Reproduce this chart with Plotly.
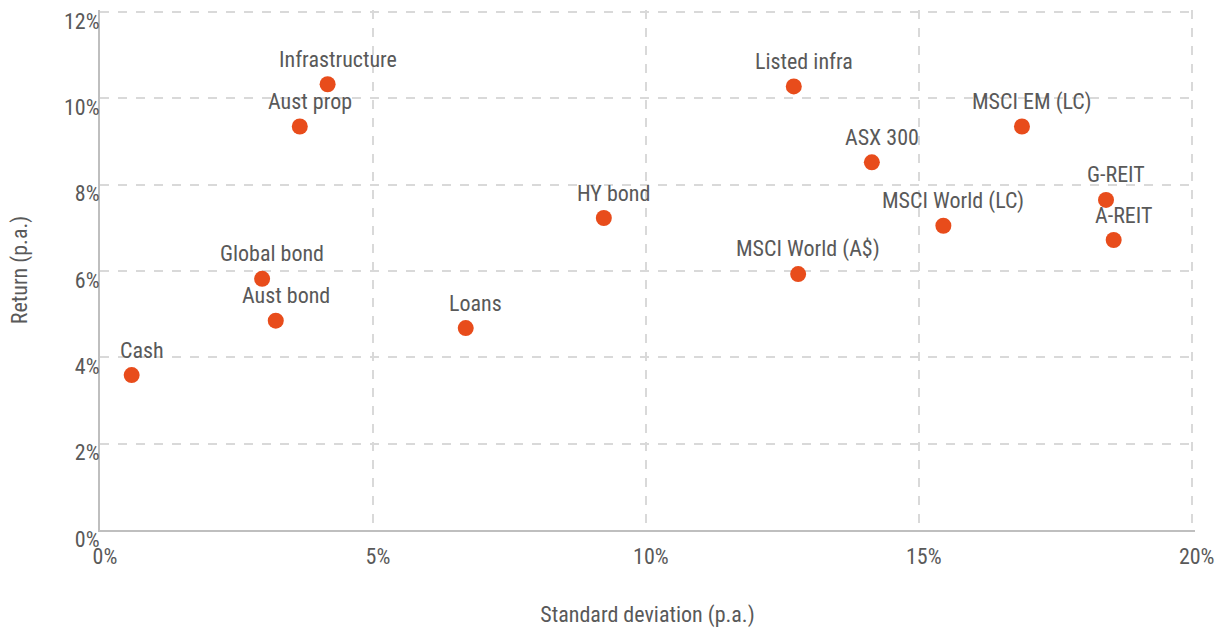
import plotly.graph_objects as go

names = ["Cash", "Global bond", "Aust bond", "Aust prop", "Infrastructure", "Loans",
         "HY bond", "MSCI World (A$)", "Listed infra", "ASX 300", "MSCI World (LC)",
         "MSCI EM (LC)", "G-REIT", "A-REIT"]
std_dev = [0.58, 2.97, 3.22, 3.66, 4.17, 6.70, 9.23, 12.79, 12.71, 14.14, 15.45, 16.89, 18.43, 18.57]
returns = [3.59, 5.82, 4.85, 9.35, 10.33, 4.68, 7.23, 5.93, 10.28, 8.52, 7.05, 9.35, 7.65, 6.72]

x_ticks = [0, 5, 10, 15, 20]
x_tick_labels = ["0%", "5%", "10%", "15%", "20%"]
y_ticks = [0, 2, 4, 6, 8, 10, 12]
y_tick_labels = ["0%", "2%", "4%", "6%", "8%", "10%", "12%"]

FONT = "Roboto Condensed, Liberation Sans Narrow, Arial Narrow, DejaVu Sans Condensed"
TXT = "#595959"
FS = 22

fig = go.Figure()
fig.add_trace(go.Scatter(
    x=std_dev, y=returns, mode="markers",
    marker=dict(size=16, color="#E84C1B"),
    cliponaxis=False, showlegend=False, hoverinfo="skip",
))
for n, xv, yv in zip(names, std_dev, returns):
    fig.add_annotation(x=xv, y=yv, text=n, showarrow=False, xanchor="center", yanchor="middle",
                       xshift=10, yshift=25, font=dict(family=FONT, size=FS, color=TXT))

fig.update_layout(
    width=1231, height=629,
    margin=dict(l=100, r=36, t=10, b=99),
    paper_bgcolor="white", plot_bgcolor="white",
    font=dict(family=FONT, size=FS, color=TXT),
    xaxis=dict(
        range=[0, 20.06], tickvals=x_ticks, ticktext=x_tick_labels, automargin=False,
        showgrid=True, gridcolor="#d9d9d9", griddash="dash", gridwidth=1.5,
        showline=True, linecolor="#bfbfbf", linewidth=2, zeroline=False,
        ticks="", ticklabelstandoff=6, ticklabelshift=5,
        tickfont=dict(family=FONT, size=FS, color=TXT),
        title=dict(text="Standard deviation (p.a.)", standoff=38,
                   font=dict(family=FONT, size=FS, color=TXT)),
    ),
    yaxis=dict(
        range=[0, 12.05], tickvals=y_ticks, ticktext=y_tick_labels, automargin=False,
        showgrid=True, gridcolor="#d9d9d9", griddash="dash", gridwidth=1.5,
        showline=True, linecolor="#bfbfbf", linewidth=2, zeroline=False,
        ticks="", ticklabelshift=9, ticklabelstandoff=-6,
        tickfont=dict(family=FONT, size=FS, color=TXT),
        title=dict(text="Return (p.a.)", standoff=30,
                   font=dict(family=FONT, size=FS, color=TXT)),
    ),
)

fig.write_html("out.html")
